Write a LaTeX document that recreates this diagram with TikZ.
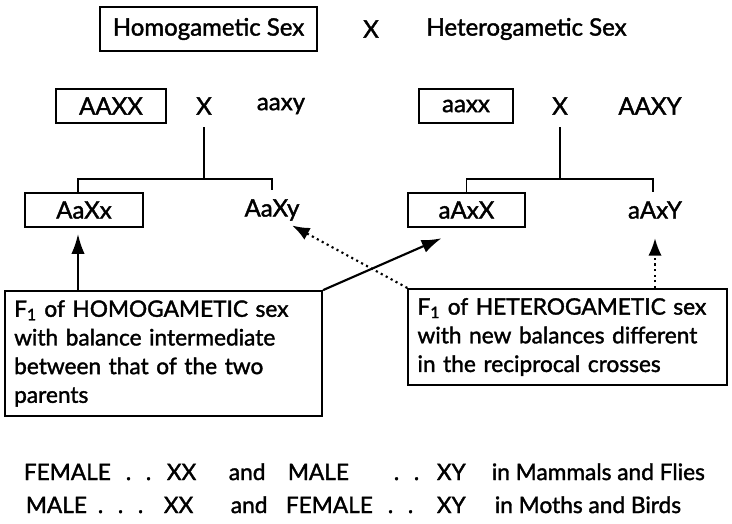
\documentclass[tikz,border=0pt]{standalone}
\usepackage{fontspec}
\setmainfont{Lato}[FakeBold=1.6]
\usetikzlibrary{arrows.meta}
\newlength\ltw \setlength\ltw{224pt}
\newlength\rtw \setlength\rtw{225pt}
\begin{document}
\begin{tikzpicture}[x=0.75pt,y=-0.75pt,line width=1.3pt,
  every node/.style={font=\fontsize{18}{22}\selectfont, inner sep=0pt},
  gbox/.style={draw, line width=1.3pt},
  ftxt/.style={font=\fontsize{17}{21.5}\selectfont},
  arr/.style={-{Latex[length=15pt,width=10pt]}, line width=1.6pt},
  darr/.style={-{Latex[length=13pt,width=10pt]}, line width=1.6pt, dash pattern=on 1.6pt off 2.6pt},
  btxt/.style={anchor=base west, font=\fontsize{17}{20}\selectfont}]
\useasboundingbox (0,0) rectangle (732,524);
% row 1
\node[gbox, minimum width=162.75pt, minimum height=33pt] (homo) at (208.5,29) {Homogametic Sex};
\node (x1) at (371,29) {X};
\node (hetero) at (526.5,29) {Heterogametic Sex};
% row 2
\node[gbox, minimum width=83pt, minimum height=25.5pt] (AAXX) at (111,106) {AAXX};
\node (x2) at (204,106) {X};
\node (aaxy) at (281,106) {aaxy};
\node[gbox, minimum width=71pt, minimum height=25pt] (aaxx) at (466,106) {aaxx};
\node (x3) at (560,106) {X};
\node (AAXY) at (650,106) {AAXY};
% row 3
\node[gbox, minimum width=88.5pt, minimum height=25.5pt] (AaXx) at (84,210) {AaXx};
\node (AaXy) at (272,210) {AaXy};
\node[gbox, minimum width=88pt, minimum height=26pt] (aAxX) at (466.5,210) {aAxX};
\node (aAxY) at (655,210) {aAxY};
% tree lines
\coordinate (lj) at (204,179);
\coordinate (rj) at (560,179);
\draw ([yshift=-9pt]x2.south) -- (lj);
\draw ([xshift=-4.5pt]AaXx.north) |- (lj) -| ([yshift=6pt]AaXy.north);
\draw ([yshift=-9pt]x3.south) -- (rj);
\draw (aAxX.north) |- (rj) -| ([xshift=-1.5pt,yshift=6pt]aAxY.north);
% F1 boxes
\node[gbox, ftxt, text width=\ltw, inner sep=7pt, minimum height=92pt, align=left] (F1L) at (163.5,353.5)
 {\makebox[\ltw][s]{F\textsubscript{1} of HOMOGAMETIC sex}\\
  \makebox[\ltw][s]{with balance intermediate}\\
  \makebox[\ltw][s]{between that of the two}\\
  parents};
\node[gbox, ftxt, text width=\rtw, inner sep=7pt, minimum height=72pt, align=left] (F1R) at (567.5,337)
 {\makebox[\rtw][s]{F\textsubscript{1} of HETEROGAMETIC sex}\\
  \makebox[\rtw][s]{with new balances different}\\
  in the reciprocal crosses};
% arrows
\draw[arr] ([xshift=-4.5pt]AaXx.south |- F1L.north) -- ([xshift=-4.5pt,yshift=-4.5pt]AaXx.south);
\draw[arr] (F1L.north east) -- ([xshift=26pt,yshift=-7.5pt]aAxX.south west);
\draw[darr] (F1R.north west) -- ([xshift=-6pt,yshift=-3pt]AaXy.south east);
\draw[darr] (F1R.north -| aAxY.south) -- ([yshift=-14pt]aAxY.south);
% bottom lines
\node[btxt] (f1a) at (23,480) {FEMALE};
\node[btxt] (f1b) at (125,480) {.\hspace{11pt}.};
\node[btxt] (f1c) at (166,480) {XX};
\node[btxt] (f1d) at (228,480) {and};
\node[btxt] (f1e) at (287,480) {MALE};
\node[btxt] (f1f) at (393,480) {.\hspace{11pt}.};
\node[btxt] (f1g) at (436,480) {XY};
\node[btxt] (f1h) at (491,480) {in Mammals and Flies};
\node[btxt] (f2a) at (25,513) {MALE};
\node[btxt] (f2b) at (97,513) {.\hspace{11pt}.\hspace{11pt}.};
\node[btxt] (f2c) at (163,513) {XX};
\node[btxt] (f2d) at (230,513) {and};
\node[btxt] (f2e) at (285,513) {FEMALE};
\node[btxt] (f2f) at (387,513) {.\hspace{11pt}.};
\node[btxt] (f2g) at (436,513) {XY};
\node[btxt] (f2h) at (494,513) {in Moths and Birds};
\end{tikzpicture}
\end{document}
